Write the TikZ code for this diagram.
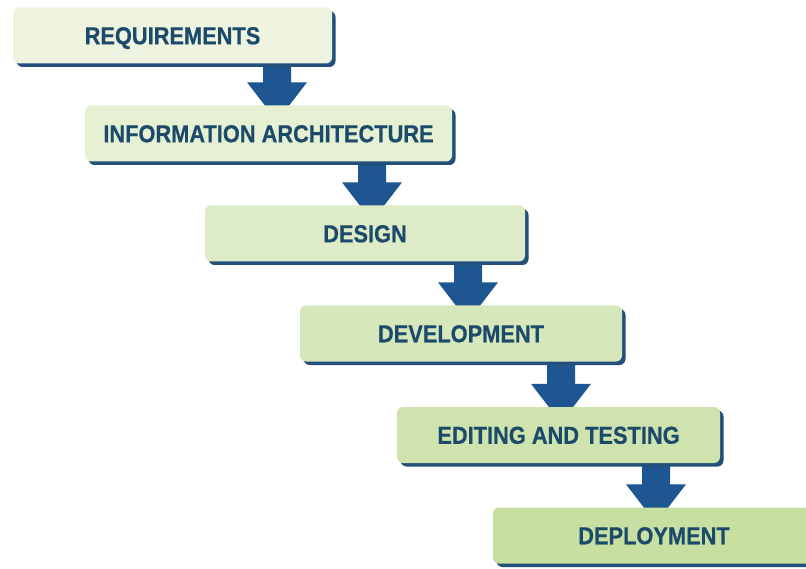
\documentclass[tikz,border=0pt]{standalone}
\usepackage{fontspec}
\setmainfont{Liberation Sans}
\newfontfamily\labelfont[FakeStretch=0.89,FakeBold=0.6]{Liberation Sans}
\usetikzlibrary{calc,shadows}
\definecolor{textc}{HTML}{1B4A6B}
\definecolor{arrowc}{HTML}{1D5690}
\definecolor{shadowc}{HTML}{22507A}
\definecolor{fillA}{HTML}{EEF4E0}
\definecolor{fillB}{HTML}{E6F0D2}
\definecolor{fillC}{HTML}{DDEBC6}
\definecolor{fillD}{HTML}{D6E7BB}
\definecolor{fillE}{HTML}{CFE3AE}
\definecolor{fillF}{HTML}{C8DFA2}
\tikzset{
  slot/.style={rectangle, minimum height=56pt, inner sep=0pt},
  stagebox/.style={rectangle, rounded corners=6pt, minimum height=56pt,
    inner sep=0pt, text height=17.5pt, text depth=0pt,
    font=\labelfont\bfseries\fontsize{24.5}{24.5}\selectfont, text=textc,
    drop shadow={shadow xshift=3.5pt, shadow yshift=-3.5pt, fill=shadowc, opacity=1}},
  arrowfill/.style={fill=arrowc}
}
\newcommand\flowarrow[3]{%
  \fill[arrowfill] ($(#1|-#2.south)+(-14,-2)$) -- ($(#1|-#3.north)+(-14,-23)$)
    -- ($(#1|-#3.north)+(-30,-23)$) -- ($(#1|-#3.north)+(0,16)$)
    -- ($(#1|-#3.north)+(30,-23)$) -- ($(#1|-#3.north)+(14,-23)$)
    -- ($(#1|-#2.south)+(14,-2)$) -- cycle;}
\begin{document}
\begin{tikzpicture}[x=1pt,y=-1pt]
\useasboundingbox (0,0) rectangle (806,569);
% x positions of the arrows
\coordinate (ax1) at (277,0);
\coordinate (ax2) at (372,0);
\coordinate (ax3) at (468,0);
\coordinate (ax4) at (561,0);
\coordinate (ax5) at (656,0);
% box slots (positions only)
\path (172.5,35.5) node[slot, minimum width=319pt] (b1) {};
\path (268.5,133.5) node[slot, minimum width=367pt] (b2) {};
\path (365,233.5) node[slot, minimum width=320pt] (b3) {};
\path (461,333.5) node[slot, minimum width=322pt] (b4) {};
\path (558.5,435) node[slot, minimum width=323pt] (b5) {};
\path (654,535.5) node[slot, minimum width=322pt] (b6) {};
% arrows
\flowarrow{ax1}{b1}{b2}
\flowarrow{ax2}{b2}{b3}
\flowarrow{ax3}{b3}{b4}
\flowarrow{ax4}{b4}{b5}
\flowarrow{ax5}{b5}{b6}
% visible boxes
\node[stagebox, minimum width=319pt, fill=fillA] (r1) at (b1) {REQUIREMENTS};
\node[stagebox, minimum width=367pt, fill=fillB] (r2) at (b2) {INFORMATION ARCHITECTURE};
\node[stagebox, minimum width=320pt, fill=fillC] (r3) at (b3) {DESIGN};
\node[stagebox, minimum width=322pt, fill=fillD] (r4) at (b4) {DEVELOPMENT};
\node[stagebox, minimum width=323pt, fill=fillE] (r5) at (b5) {EDITING AND TESTING};
\node[stagebox, minimum width=322pt, fill=fillF] (r6) at (b6) {DEPLOYMENT};
\end{tikzpicture}
\end{document}
